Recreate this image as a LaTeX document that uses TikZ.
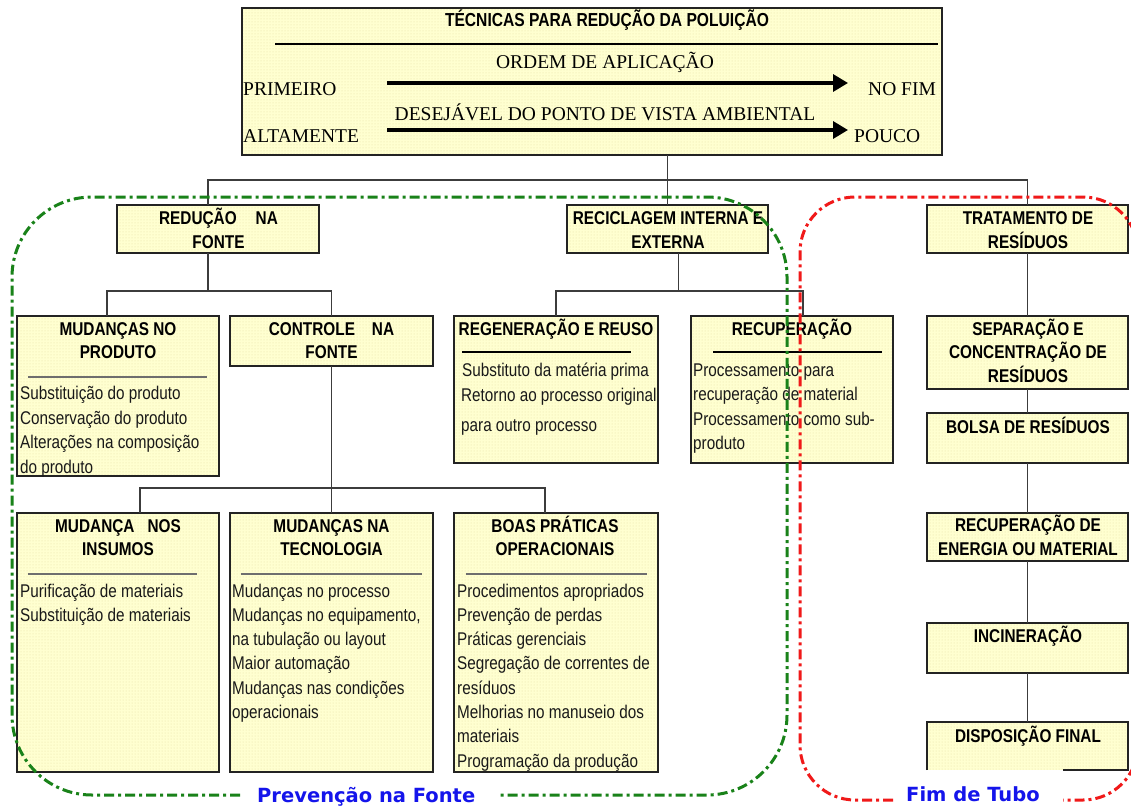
\documentclass[tikz,border=0pt]{standalone}
\usepackage{fontspec}
\setmainfont{Liberation Sans}
\newfontfamily\sansN[FakeStretch=0.83]{Liberation Sans}
\newfontfamily\serifT{Liberation Serif}
\newfontfamily\lblfont{DejaVu Sans}
\usetikzlibrary{arrows.meta,patterns}
\definecolor{boxfill}{RGB}{255,255,208}
\definecolor{dotcol}{RGB}{230,224,165}
\definecolor{linecol}{RGB}{35,35,35}
\definecolor{conncol}{RGB}{60,60,60}
\definecolor{sepgray}{RGB}{110,110,110}
\definecolor{grn}{RGB}{25,130,25}
\definecolor{rd}{RGB}{240,25,25}
\definecolor{blu}{RGB}{20,20,235}
\tikzset{
  boxbase/.style={preaction={fill=boxfill}, pattern=dots, pattern color=dotcol, anchor=north west, inner sep=0pt, outer sep=0pt},
  box/.style={boxbase, draw=linecol, line width=1.8pt},
  hd/.style={font={\sansN\bfseries\fontsize{18.5pt}{20pt}\selectfont}, anchor=base, inner sep=0pt},
  it/.style={font={\sansN\fontsize{18.4pt}{20pt}\selectfont}, text=black!90, anchor=base west, inner sep=0pt},
  sr/.style={font={\serifT\fontsize{19.5pt}{22pt}\selectfont}, inner sep=0pt},
  conn/.style={draw=conncol, line width=1.8pt},
  sepln/.style={draw=sepgray, line width=2.5pt},
  septhin/.style={draw=black, line width=1.3pt},
  region/.style={line width=3pt, dash pattern=on 10pt off 4pt on 3pt off 4pt, rounded corners=#1},
  lbl/.style={font={\lblfont\bfseries\fontsize{19.5pt}{22pt}\selectfont}, text=blu, anchor=base west, inner sep=0pt},
  bigarrow/.style={line width=3.3pt, -{Triangle[length=15pt,width=17pt]}},
}
\begin{document}
\begin{tikzpicture}[x=1pt,y=-1pt]
\useasboundingbox (0,0) rectangle (1131,808);
\fill[white] (0,0) rectangle (1131,808);

% ---------- top box ----------
\node[box, minimum width=700pt, minimum height=147pt] (top) at (242,8) {};
\node[hd, font={\sansN\bfseries\fontsize{18.8pt}{20pt}\selectfont}] (title) at (607,27) {TÉCNICAS PARA REDUÇÃO DA POLUIÇÃO};
\draw[line width=1.3pt] (275,44) -- (938,44);
\node[sr, anchor=base] (ordem) at (605,68) {ORDEM DE APLICAÇÃO};
\node[sr, anchor=base west] (prim) at (243,95) {PRIMEIRO};
\node[sr, anchor=base west] (nofim) at (868,95) {NO FIM};
\node[sr, anchor=base] (desej) at (605,120) {DESEJÁVEL DO PONTO DE VISTA AMBIENTAL};
\node[sr, anchor=base west] (alta) at (243,142) {ALTAMENTE};
\node[sr, anchor=base west] (pouco) at (854,142) {POUCO};
\coordinate (a1s) at (387,83); \coordinate (a1e) at (848,83);
\coordinate (a2s) at (387,130); \coordinate (a2e) at (848,130);
\draw[bigarrow] (a1s) -- (a1e);
\draw[bigarrow] (a2s) -- (a2e);

% ---------- level 1 ----------
\node[box, minimum width=202pt, minimum height=48pt] (red) at (117,205) {};
\node[hd] (redH1) at (218.5,224) {REDUÇÃO\hspace{19pt}NA};
\node[hd] (redH2) at (218.5,248) {FONTE};

\node[box, minimum width=201pt, minimum height=48pt] (rec) at (567,205) {};
\node[hd] (recH1) at (668,224) {RECICLAGEM INTERNA E};
\node[hd] (recH2) at (668,248) {EXTERNA};

\node[box, minimum width=201pt, minimum height=48pt] (tra) at (927,205) {};
\node[hd] (traH1) at (1028,224) {TRATAMENTO DE};
\node[hd] (traH2) at (1028,248) {RESÍDUOS};

% ---------- level 2 ----------
\node[box, minimum width=202pt, minimum height=160pt] (mp) at (17,316) {};
\node[hd] (mpH1) at (118,335) {MUDANÇAS NO};
\node[hd] (mpH2) at (118,358) {PRODUTO};
\draw[sepln] (28,377) -- (207,377);
\node[it] (mp1) at (20,399) {Substituição do produto};
\node[it] (mp2) at (20,424) {Conservação do produto};
\node[it] (mp3) at (20,448) {Alterações na composição};
\node[it] (mp4) at (20,473) {do produto};

\node[box, minimum width=203pt, minimum height=50pt] (ctl) at (230,316) {};
\node[hd] (ctlH1) at (331.5,335) {CONTROLE\hspace{17pt}NA};
\node[hd] (ctlH2) at (331.5,358) {FONTE};

\node[box, minimum width=204pt, minimum height=147pt] (reg) at (454,316) {};
\node[hd] (regH) at (556,335) {REGENERAÇÃO E REUSO};
\draw[septhin] (462,352) -- (631,352);
\node[it] (reg1) at (462,376) {Substituto da matéria prima};
\node[it] (reg2) at (461,401) {Retorno ao processo original};
\node[it] (reg3) at (461,431) {para outro processo};

\node[box, minimum width=202pt, minimum height=147pt] (rcp) at (691,316) {};
\node[hd] (rcpH) at (792,335) {RECUPERAÇÃO};
\draw[septhin] (713,352) -- (882,352);
\node[it] (rcp1) at (693,376) {Processamento para};
\node[it] (rcp2) at (693,400) {recuperação de material};
\node[it] (rcp3) at (693,425) {Processamento como sub-};
\node[it] (rcp4) at (693,449) {produto};

\node[box, minimum width=201pt, minimum height=73pt] (sep) at (927,316) {};
\node[hd] (sepH1) at (1028,335) {SEPARAÇÃO E};
\node[hd] (sepH2) at (1028,358.5) {CONCENTRAÇÃO DE};
\node[hd] (sepH3) at (1028,382) {RESÍDUOS};

\node[box, minimum width=201pt, minimum height=50pt] (bol) at (927,413) {};
\node[hd] (bolH) at (1028,433) {BOLSA DE RESÍDUOS};

% ---------- level 3 ----------
\node[box, minimum width=202pt, minimum height=259pt] (ins) at (17,513) {};
\node[hd] (insH1) at (118,532) {MUDANÇA\hspace{13pt}NOS};
\node[hd] (insH2) at (118,555) {INSUMOS};
\draw[sepln] (28,574) -- (197,574);
\node[it] (ins1) at (20,597) {Purificação de materiais};
\node[it] (ins2) at (20,621) {Substituição de materiais};

\node[box, minimum width=203pt, minimum height=259pt] (tec) at (230,513) {};
\node[hd] (tecH1) at (331.5,532) {MUDANÇAS NA};
\node[hd] (tecH2) at (331.5,555) {TECNOLOGIA};
\draw[sepln] (241,574) -- (422,574);
\node[it] (tec1) at (232,597) {Mudanças no processo};
\node[it] (tec2) at (232,621) {Mudanças no equipamento,};
\node[it] (tec3) at (232,645) {na tubulação ou layout};
\node[it] (tec4) at (232,669) {Maior automação};
\node[it] (tec5) at (232,694) {Mudanças nas condições};
\node[it] (tec6) at (232,718) {operacionais};

\node[box, minimum width=204pt, minimum height=259pt] (boas) at (454,513) {};
\node[hd] (boasH1) at (555,532) {BOAS PRÁTICAS};
\node[hd] (boasH2) at (555,555) {OPERACIONAIS};
\draw[sepln] (466,574) -- (647,574);
\node[it] (boas1) at (457,597) {Procedimentos apropriados};
\node[it] (boas2) at (457,621.3) {Prevenção de perdas};
\node[it] (boas3) at (457,645.6) {Práticas gerenciais};
\node[it] (boas4) at (457,669.9) {Segregação de correntes de};
\node[it] (boas5) at (457,694.2) {resíduos};
\node[it] (boas6) at (457,718.5) {Melhorias no manuseio dos};
\node[it] (boas7) at (457,742.8) {materiais};
\node[it] (boas8) at (457,767.1) {Programação da produção};

\node[box, minimum width=201pt, minimum height=48pt] (ene) at (927,513) {};
\node[hd] (eneH1) at (1028,531) {RECUPERAÇÃO DE};
\node[hd] (eneH2) at (1028,555) {ENERGIA OU MATERIAL};

\node[box, minimum width=201pt, minimum height=50pt] (inc) at (927,623) {};
\node[hd] (incH) at (1028,642) {INCINERAÇÃO};

\node[boxbase, minimum width=201pt, minimum height=48pt] (dis) at (927,722) {};
\draw[draw=linecol, line width=1.8pt] (dis.south west) -- (dis.north west) -- (dis.north east) -- (dis.south east) -- ([xshift=-65pt]dis.south east);
\node[hd] (disH) at (1028,742) {DISPOSIÇÃO FINAL};

% ---------- connectors ----------
\coordinate (bus1) at (0,180);
\coordinate (bus2) at (0,291);
\coordinate (bus3) at (0,488);
\draw[conn] (top.south -| rec.north) -- (rec.north);
\draw[conn] ([xshift=-10pt]red.north) -- ([xshift=-10pt]red.north |- bus1) -- (tra.north |- bus1) -- (tra.north);
\draw[conn] ([xshift=-10pt]red.south) -- ([xshift=-10pt]red.south |- bus2);
\draw[conn] ([xshift=-11pt]mp.north) -- ([xshift=-11pt]mp.north |- bus2) -- (ctl.north |- bus2) -- (ctl.north);
\draw[conn] (ctl.south) -- (ctl.south |- bus3);
\draw[conn] ([xshift=22pt]ins.north) -- ([xshift=22pt]ins.north |- bus3) -- ([xshift=-11pt]boas.north |- bus3) -- ([xshift=-11pt]boas.north);
\draw[conn] (tec.north) -- (tec.north |- bus3);
\draw[conn] ([xshift=11pt]rec.south) -- ([xshift=11pt]rec.south |- bus2);
\draw[conn] (reg.north) -- (reg.north |- bus2) -- ([xshift=11pt]rcp.north |- bus2) -- ([xshift=11pt]rcp.north);
\draw[conn] (tra.south) -- (sep.north);
\draw[conn] (sep.south) -- (bol.north);
\draw[conn] (bol.south) -- (ene.north);
\draw[conn] (ene.south) -- (inc.north);
\draw[conn] (inc.south) -- (dis.north);

% ---------- regions ----------
\draw[region=80, draw=grn] (240,795) -- (12,795) -- (12,197) -- (787,197) -- (787,795) -- (498,795);
\node[lbl] (prev) at (257,802) {Prevenção na Fonte};
\begin{scope}
\clip (0,0) rectangle (1131,808);
\draw[region=55, draw=rd] (893,800) -- (800,800) -- (800,197) -- (1138,197) -- (1138,800) -- (1063,800);
\end{scope}
\node[lbl] (fim) at (906,801) {Fim de Tubo};
\end{tikzpicture}
\end{document}
